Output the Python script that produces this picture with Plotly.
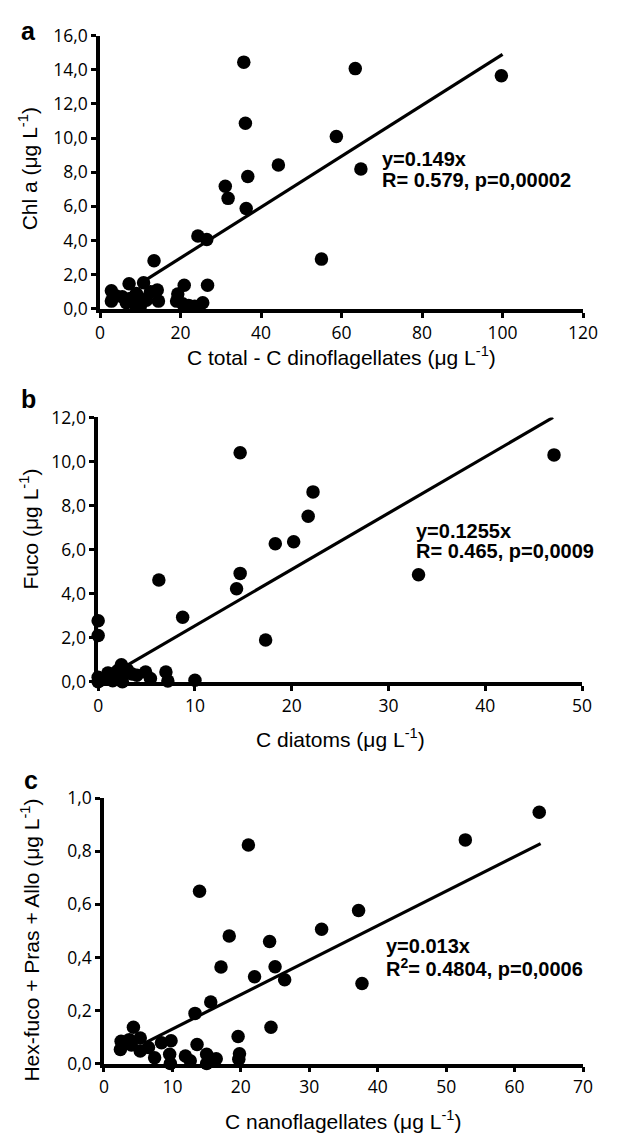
import plotly.graph_objects as go

# ---------------- data ----------------
# Panel a: C total - C dinoflagellates vs Chl a
a_x = [35.7, 63.4, 99.7, 36.1, 58.7, 44.3, 64.8, 36.7, 31.1, 31.8, 36.3, 24.3, 26.5,
       55.0, 13.4, 20.9, 26.7, 7.2, 10.8, 2.8, 14.2, 19.3, 2.8, 5.5, 7.5, 9.0, 10.0,
       11.5, 12.5, 14.5, 19.0, 20.5, 22.0, 23.5, 25.5, 8.5, 4.0, 6.5, 9.5]
a_y = [14.45, 14.07, 13.65, 10.87, 10.09, 8.42, 8.19, 7.75, 7.18, 6.47, 5.88, 4.27, 4.06,
       2.91, 2.81, 1.38, 1.38, 1.47, 1.53, 1.05, 1.10, 0.86, 0.45, 0.70, 0.60, 0.90, 0.15,
       0.50, 1.00, 0.45, 0.45, 0.30, 0.20, 0.15, 0.35, 0.30, 0.75, 0.35, 0.70]
a_line_x = [10.0, 100.0]
a_line_y = [1.49, 14.9]

# Panel b: C diatoms vs Fuco
b_x = [14.67, 47.1, 22.2, 21.7, 18.3, 20.2, 14.67, 14.3, 33.1, 6.27, 8.73, 17.3, 0.0, 0.0,
       7.0, 7.2, 10.0, 0.0, 0.0, 0.5, 1.1, 1.5, 2.0, 2.4, 2.6, 3.0, 3.5, 4.0, 4.9, 5.4, 2.5, 1.0]
b_y = [10.4, 10.3, 8.62, 7.51, 6.27, 6.36, 4.92, 4.22, 4.86, 4.62, 2.93, 1.90, 2.77, 2.10,
       0.44, 0.03, 0.07, 0.20, 0.00, 0.10, 0.37, 0.05, 0.50, 0.77, 0.30, 0.55, 0.35, 0.30,
       0.44, 0.15, 0.00, 0.40]
b_line_x = [2.4, 47.0]
b_line_y = [0.6, 12.0]

# Panel c: C nanoflagellates vs Hex-fuco + Pras + Allo
c_x = [63.6, 52.8, 21.1, 13.96, 37.2, 31.8, 18.3, 24.2, 17.1, 25.0, 22.0, 26.4, 37.7, 15.6,
       13.3, 24.4, 19.6, 4.3, 19.8, 19.7, 13.6, 15.0, 16.4, 11.9, 12.6, 9.8, 8.4, 9.6, 9.7,
       15.0, 2.5, 2.4, 3.7, 5.3, 5.3, 6.5, 7.4, 4.0]
c_y = [0.947, 0.843, 0.824, 0.649, 0.577, 0.506, 0.481, 0.460, 0.364, 0.365, 0.327, 0.316,
       0.302, 0.232, 0.189, 0.137, 0.102, 0.137, 0.037, 0.016, 0.072, 0.035, 0.018, 0.028,
       0.010, 0.086, 0.078, 0.035, 0.000, 0.000, 0.084, 0.053, 0.090, 0.096, 0.047, 0.060,
       0.022, 0.070]
c_line_x = [6.0, 63.8]
c_line_y = [0.078, 0.829]

# ticks
a_xticks = [0, 20, 40, 60, 80, 100, 120]
a_yticks = [0, 2, 4, 6, 8, 10, 12, 14, 16]
a_ytext = ["0,0", "2,0", "4,0", "6,0", "8,0", "10,0", "12,0", "14,0", "16,0"]
b_xticks = [0, 10, 20, 30, 40, 50]
b_yticks = [0, 2, 4, 6, 8, 10, 12]
b_ytext = ["0,0", "2,0", "4,0", "6,0", "8,0", "10,0", "12,0"]
c_xticks = [0, 10, 20, 30, 40, 50, 60, 70]
c_yticks = [0, 0.2, 0.4, 0.6, 0.8, 1.0]
c_ytext = ["0,0", "0,2", "0,4", "0,6", "0,8", "1,0"]

# ---------------- figure ----------------
OFF = 8  # default body margin of the html page
W, H = 630 - OFF, 1145 - OFF
TICKFONT = dict(family="Open Sans, Noto Sans, sans-serif", size=17.5, color="black")
TITLEFONT = dict(family="Liberation Sans, Arial, sans-serif", size=21, color="black")
EQFONT = dict(family="Liberation Sans, Arial, sans-serif", size=20, color="black")


def px_x(p):
    return (p - OFF) / W


def px_y(p):
    return 1 - (p - OFF) / H


fig = go.Figure()

panels = [
    dict(x=a_x, y=a_y, lx=a_line_x, ly=a_line_y, xa="x", ya="y"),
    dict(x=b_x, y=b_y, lx=b_line_x, ly=b_line_y, xa="x2", ya="y2"),
    dict(x=c_x, y=c_y, lx=c_line_x, ly=c_line_y, xa="x3", ya="y3"),
]
for p in panels:
    fig.add_trace(go.Scatter(x=p["x"], y=p["y"], mode="markers", xaxis=p["xa"], yaxis=p["ya"],
                             marker=dict(size=13.5, color="black", line=dict(width=0)),
                             cliponaxis=False, showlegend=False, hoverinfo="skip"))
    fig.add_trace(go.Scatter(x=p["lx"], y=p["ly"], mode="lines", xaxis=p["xa"], yaxis=p["ya"],
                             line=dict(color="black", width=3.2), cliponaxis=False,
                             showlegend=False, hoverinfo="skip"))

axis_common = dict(showline=True, linecolor="black", linewidth=3.5, ticks="outside",
                   ticklen=5, tickwidth=3, tickcolor="black", showgrid=False,
                   zeroline=False, tickfont=TICKFONT, fixedrange=True)

# pixel geometry of the three plot areas (page pixels)
geo = {
    "a": dict(x0=98, x1=597, y0=23, y1=302),
    "b": dict(x0=96, x1=596, y0=413, y1=683),
    "c": dict(x0=102, x1=597, y0=802, y1=1073),
}

fig.update_layout(
    width=W, height=H,
    margin=dict(l=0, r=0, t=0, b=0),
    paper_bgcolor="white", plot_bgcolor="white",
    xaxis=dict(domain=[px_x(geo["a"]["x0"]), px_x(geo["a"]["x1"])], range=[0, 120],
               tickvals=a_xticks, anchor="y", **axis_common),
    yaxis=dict(domain=[px_y(geo["a"]["y1"]), px_y(geo["a"]["y0"])], range=[0, 16],
               tickvals=a_yticks, ticktext=a_ytext, anchor="x", **axis_common),
    xaxis2=dict(domain=[px_x(geo["b"]["x0"]), px_x(geo["b"]["x1"])], range=[0, 50],
                tickvals=b_xticks, anchor="y2", **axis_common),
    yaxis2=dict(domain=[px_y(geo["b"]["y1"]), px_y(geo["b"]["y0"])], range=[0, 12],
                tickvals=b_yticks, ticktext=b_ytext, anchor="x2", **axis_common),
    xaxis3=dict(domain=[px_x(geo["c"]["x0"]), px_x(geo["c"]["x1"])], range=[0, 70],
                tickvals=c_xticks, anchor="y3", **axis_common),
    yaxis3=dict(domain=[px_y(geo["c"]["y1"]), px_y(geo["c"]["y0"])], range=[0, 1.0],
                tickvals=c_yticks, ticktext=c_ytext, anchor="x3", **axis_common),
)

ann = []
MU = "\u03bc"
# axis titles
xtitles = [
    ("C total - C dinoflagellates (" + MU + "g L<sup>-1</sup>)", 347, 350),
    ("C diatoms (" + MU + "g L<sup>-1</sup>)", 346, 740),
    ("C nanoflagellates (" + MU + "g L<sup>-1</sup>)", 349, 1131),
]
for t, x, y in xtitles:
    ann.append(dict(text=t, xref="paper", yref="paper", x=px_x(x), y=px_y(y),
                    xanchor="center", yanchor="middle", showarrow=False, font=TITLEFONT))
ytitles = [
    ("Chl a (" + MU + "g L<sup>-1</sup>)", 23, 159),
    ("Fuco (" + MU + "g L<sup>-1</sup>)", 25, 527),
    ("Hex-fuco + Pras + Allo (" + MU + "g L<sup>-1</sup>)", 26, 947),
]
for t, x, y in ytitles:
    ann.append(dict(text=t, xref="paper", yref="paper", x=px_x(x), y=px_y(y),
                    xanchor="center", yanchor="middle", textangle=-90, showarrow=False,
                    font=TITLEFONT))
# panel letters
for t, x, y in [("a", 24, 18), ("b", 24, 394), ("c", 27, 783)]:
    ann.append(dict(text="<b>" + t + "</b>", xref="paper", yref="paper", x=px_x(x), y=px_y(y),
                    xanchor="center", yanchor="middle", showarrow=False,
                    font=dict(family="Liberation Sans, Arial, sans-serif", size=25, color="black")))
# regression equations
eqs = [
    ("x", "y", 69.5, [(8.77, "y=0.149x"), (7.56, "R= 0.579, p=0,00002")]),
    ("x2", "y2", 32.6, [(6.86, "y=0.1255x"), (5.92, "R= 0.465, p=0,0009")]),
    ("x3", "y3", 40.9, [(0.443, "y=0.013x"), (0.361, "R<sup>2</sup>= 0.4804, p=0,0006")]),
]
for xr, yr, x, lines in eqs:
    for y, t in lines:
        ann.append(dict(text="<b>" + t + "</b>", xref=xr, yref=yr, x=x, y=y,
                        xanchor="left", yanchor="middle", showarrow=False, font=EQFONT))

fig.update_layout(annotations=ann)
fig.write_html("out.html")
